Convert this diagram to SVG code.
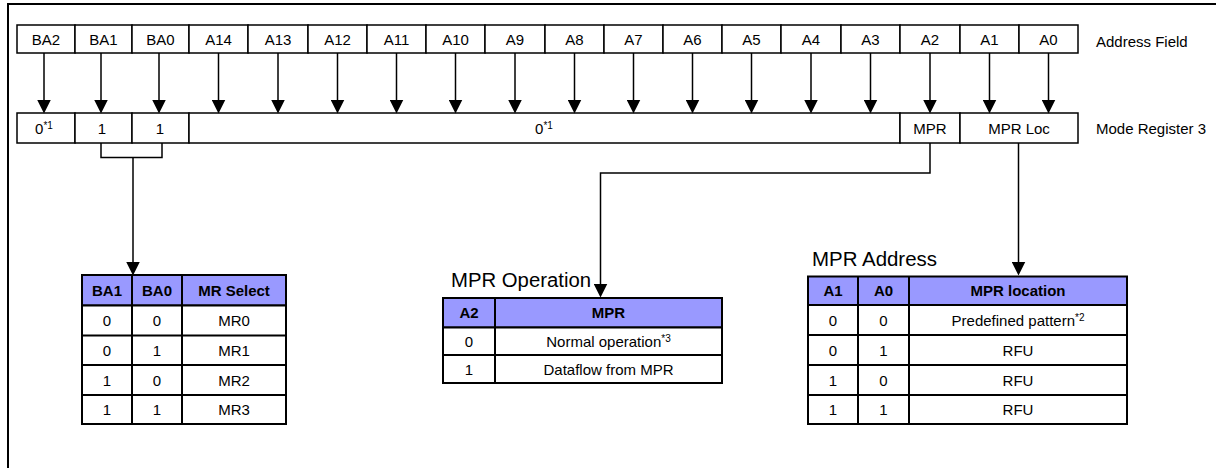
<svg xmlns="http://www.w3.org/2000/svg" width="1216" height="468" viewBox="0 0 1216 468">
<defs>
<style>
text{font-family:"Liberation Sans",Arial,sans-serif;fill:#000}
.t{font-size:15px;text-anchor:middle}
.lbl{font-size:15px}
.big{font-size:20px}
.b{font-weight:bold}
.sup{font-size:10px}
.cell{fill:#fff;stroke:#000;stroke-width:1.5}
.tb{fill:#fff;stroke:#000;stroke-width:2}
.hd{fill:#9999ff;stroke:#000;stroke-width:2}
.ln{fill:none;stroke:#000;stroke-width:2}
.con{fill:none;stroke:#000;stroke-width:1.5}
</style>
<marker id="ah" markerUnits="userSpaceOnUse" markerWidth="14" markerHeight="14" viewBox="0 0 13 13" refX="6" refY="6.5" orient="auto">
<path d="M0,0 L13,6.5 L0,13 z" fill="#000"/>
</marker>
</defs>
<rect width="1216" height="468" fill="#fff"/>
<path d="M8,468 V4 H1216" fill="none" stroke="#000" stroke-width="2"/>

<g id="address-field">
<rect class="cell" x="17" y="25" width="58" height="28"/><text class="t" x="46" y="44.5">BA2</text>
<rect class="cell" x="75" y="25" width="57" height="28"/><text class="t" x="103.5" y="44.5">BA1</text>
<rect class="cell" x="132" y="25" width="57" height="28"/><text class="t" x="160.5" y="44.5">BA0</text>
<rect class="cell" x="189" y="25" width="59" height="28"/><text class="t" x="218.5" y="44.5">A14</text>
<rect class="cell" x="248" y="25" width="60" height="28"/><text class="t" x="278" y="44.5">A13</text>
<rect class="cell" x="308" y="25" width="59" height="28"/><text class="t" x="337.5" y="44.5">A12</text>
<rect class="cell" x="367" y="25" width="59" height="28"/><text class="t" x="396.5" y="44.5">A11</text>
<rect class="cell" x="426" y="25" width="59" height="28"/><text class="t" x="455.5" y="44.5">A10</text>
<rect class="cell" x="485" y="25" width="60" height="28"/><text class="t" x="515" y="44.5">A9</text>
<rect class="cell" x="545" y="25" width="59" height="28"/><text class="t" x="574.5" y="44.5">A8</text>
<rect class="cell" x="604" y="25" width="59" height="28"/><text class="t" x="633.5" y="44.5">A7</text>
<rect class="cell" x="663" y="25" width="59" height="28"/><text class="t" x="692.5" y="44.5">A6</text>
<rect class="cell" x="722" y="25" width="59" height="28"/><text class="t" x="751.5" y="44.5">A5</text>
<rect class="cell" x="781" y="25" width="60" height="28"/><text class="t" x="811" y="44.5">A4</text>
<rect class="cell" x="841" y="25" width="59" height="28"/><text class="t" x="870.5" y="44.5">A3</text>
<rect class="cell" x="900" y="25" width="60" height="28"/><text class="t" x="930" y="44.5">A2</text>
<rect class="cell" x="960" y="25" width="59" height="28"/><text class="t" x="989.5" y="44.5">A1</text>
<rect class="cell" x="1019" y="25" width="59" height="28"/><text class="t" x="1048.5" y="44.5">A0</text>
<text class="lbl" x="1096" y="47">Address Field</text>
</g>

<g id="mode-register-3">
<rect class="cell" x="17" y="113" width="58" height="30"/><text class="t" x="44" y="133.5">0<tspan class="sup" dy="-5">*1</tspan></text>
<rect class="cell" x="75" y="113" width="57" height="30"/><text class="t" x="102" y="133.5">1</text>
<rect class="cell" x="132" y="113" width="57" height="30"/><text class="t" x="160" y="133.5">1</text>
<rect class="cell" x="189" y="113" width="711" height="30"/><text class="t" x="544" y="133.5">0<tspan class="sup" dy="-5">*1</tspan></text>
<rect class="cell" x="900" y="113" width="60" height="30"/><text class="t" x="930" y="133.5">MPR</text>
<rect class="cell" x="960" y="113" width="118" height="30"/><text class="t" x="1019" y="133.5">MPR Loc</text>
<text class="lbl" x="1096" y="133.5">Mode Register 3</text>
</g>

<g id="connectors">
<g marker-end="url(#ah)" class="con">
<line x1="44" y1="53" x2="44" y2="106"/>
<line x1="101" y1="53" x2="101" y2="106"/>
<line x1="159" y1="53" x2="159" y2="106"/>
<line x1="218.5" y1="53" x2="218.5" y2="106"/>
<line x1="278" y1="53" x2="278" y2="106"/>
<line x1="337.5" y1="53" x2="337.5" y2="106"/>
<line x1="396.5" y1="53" x2="396.5" y2="106"/>
<line x1="455.5" y1="53" x2="455.5" y2="106"/>
<line x1="515" y1="53" x2="515" y2="106"/>
<line x1="574.5" y1="53" x2="574.5" y2="106"/>
<line x1="633.5" y1="53" x2="633.5" y2="106"/>
<line x1="692.5" y1="53" x2="692.5" y2="106"/>
<line x1="751.5" y1="53" x2="751.5" y2="106"/>
<line x1="811" y1="53" x2="811" y2="106"/>
<line x1="870.5" y1="53" x2="870.5" y2="106"/>
<line x1="930" y1="53" x2="930" y2="106"/>
<line x1="989.5" y1="53" x2="989.5" y2="106"/>
<line x1="1048.5" y1="53" x2="1048.5" y2="106"/>
<path d="M133,157.5 V268"/>
<path d="M930,143 V173 H600.5 V290"/>
<path d="M1018.5,143 V268"/>
</g>
<path class="con" d="M101,143 V157.5 H162 V143"/>
</g>

<g id="mr-select-table">
<rect class="hd" x="82" y="275" width="204" height="30.5"/>
<rect class="tb" x="82" y="305.5" width="204" height="118.5"/>
<path class="ln" d="M82,335.5 H286 M82,365 H286 M82,395 H286 M132,275 V424 M182,275 V424"/>
<text class="t b" x="107" y="295.5">BA1</text>
<text class="t b" x="157" y="295.5">BA0</text>
<text class="t b" x="234" y="295.5">MR Select</text>
<text class="t" x="107" y="326">0</text><text class="t" x="157" y="326">0</text><text class="t" x="234" y="326">MR0</text>
<text class="t" x="107" y="355.5">0</text><text class="t" x="157" y="355.5">1</text><text class="t" x="234" y="355.5">MR1</text>
<text class="t" x="107" y="385.5">1</text><text class="t" x="157" y="385.5">0</text><text class="t" x="234" y="385.5">MR2</text>
<text class="t" x="107" y="414.5">1</text><text class="t" x="157" y="414.5">1</text><text class="t" x="234" y="414.5">MR3</text>
</g>

<g id="mpr-operation-table">
<text class="big" x="451" y="287" textLength="140" lengthAdjust="spacingAndGlyphs">MPR Operation</text>
<rect class="hd" x="443" y="298" width="279" height="29.5"/>
<rect class="tb" x="443" y="327.5" width="279" height="55.5"/>
<path class="ln" d="M443,355 H722 M495,298 V383"/>
<text class="t b" x="469" y="318">A2</text>
<text class="t b" x="608.5" y="318">MPR</text>
<text class="t" x="469" y="346.5">0</text>
<text class="t" x="608.5" y="346.5">Normal operation<tspan class="sup" dy="-5">*3</tspan></text>
<text class="t" x="469" y="374.5">1</text>
<text class="t" x="608.5" y="374.5">Dataflow from MPR</text>
</g>

<g id="mpr-address-table">
<text class="big" x="812" y="266" textLength="125" lengthAdjust="spacingAndGlyphs">MPR Address</text>
<rect class="hd" x="808" y="276.5" width="319" height="28.5"/>
<rect class="tb" x="808" y="305" width="319" height="119"/>
<path class="ln" d="M808,335 H1127 M808,365 H1127 M808,395 H1127 M858,276.5 V424 M909,276.5 V424"/>
<text class="t b" x="833" y="296">A1</text>
<text class="t b" x="883.5" y="296">A0</text>
<text class="t b" x="1018" y="296">MPR location</text>
<text class="t" x="833" y="325.5">0</text><text class="t" x="883.5" y="325.5">0</text>
<text class="t" x="1018" y="325.5">Predefined pattern<tspan class="sup" dy="-5">*2</tspan></text>
<text class="t" x="833" y="355.5">0</text><text class="t" x="883.5" y="355.5">1</text><text class="t" x="1018" y="355.5">RFU</text>
<text class="t" x="833" y="385.5">1</text><text class="t" x="883.5" y="385.5">0</text><text class="t" x="1018" y="385.5">RFU</text>
<text class="t" x="833" y="414.5">1</text><text class="t" x="883.5" y="414.5">1</text><text class="t" x="1018" y="414.5">RFU</text>
</g>
</svg>
